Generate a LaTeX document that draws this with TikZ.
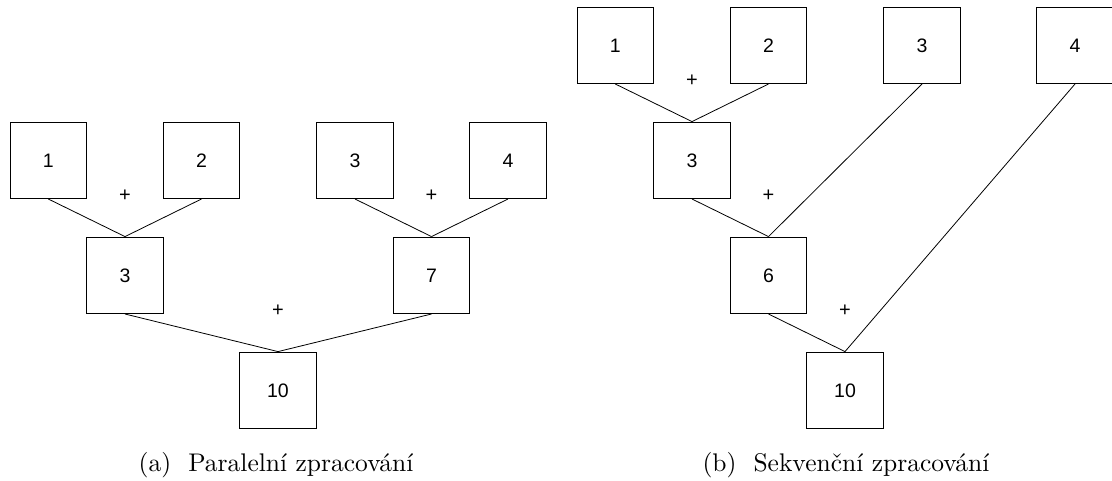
\documentclass[tikz,border=0pt]{standalone}
\usepackage{fontspec}
\newfontfamily\boxfont{Liberation Sans}
\tikzset{
  numbox/.style={draw, line width=0.9pt, minimum size=76.5pt, inner sep=0pt, font=\boxfont\fontsize{19.5}{22}\selectfont},
  plussign/.style={inner sep=0pt, font=\boxfont\fontsize{20}{22}\selectfont},
  conn/.style={line width=0.8pt},
  captiontext/.style={inner sep=0pt, font=\fontsize{10}{12}\selectfont, scale=2.55, transform shape}
}
\begin{document}
\begin{tikzpicture}[x=1pt,y=-1pt]
\useasboundingbox (0,0) rectangle (1112,481);
% (a) parallel
\node[numbox] (a1) at (48.3,160.3) {1};
\node[numbox] (a2) at (201.5,160.3) {2};
\node[numbox] (a3) at (355,160.3) {3};
\node[numbox] (a4) at (508,160.3) {4};
\node[numbox] (am3) at (125,275.3) {3};
\node[numbox] (am7) at (431.5,275.3) {7};
\node[numbox] (a10) at (278,390.3) {10};
\node[plussign] (ap1) at (125,196) {+};
\node[plussign] (ap2) at (431.5,196) {+};
\node[plussign] (ap3) at (278,311) {+};
\draw[conn] (a1.south) -- (am3.north);
\draw[conn] (a2.south) -- (am3.north);
\draw[conn] (a3.south) -- (am7.north);
\draw[conn] (a4.south) -- (am7.north);
\draw[conn] (am3.south) -- (a10.north);
\draw[conn] (am7.south) -- (a10.north);
% (b) sequential
\node[numbox] (b1) at (615.3,45.3) {1};
\node[numbox] (b2) at (768.5,45.3) {2};
\node[numbox] (b3) at (922,45.3) {3};
\node[numbox] (b4) at (1075,45.3) {4};
\node[numbox] (bs3) at (692,160.3) {3};
\node[numbox] (bs6) at (768.5,275.3) {6};
\node[numbox] (bs10) at (845,390.3) {10};
\node[plussign] (bp1) at (692,81) {+};
\node[plussign] (bp2) at (768.5,196) {+};
\node[plussign] (bp3) at (845,311) {+};
\draw[conn] (b1.south) -- (bs3.north);
\draw[conn] (b2.south) -- (bs3.north);
\draw[conn] (bs3.south) -- (bs6.north);
\draw[conn] (b3.south) -- (bs6.north);
\draw[conn] (bs6.south) -- (bs10.north);
\draw[conn] (b4.south) -- (bs10.north);
% captions
\node[captiontext] (capa) at (276,465) {(a)\ \ Paralelní zpracování};
\node[captiontext] (capb) at (846,465) {(b)\ \ Sekvenční zpracování};
\end{tikzpicture}
\end{document}
